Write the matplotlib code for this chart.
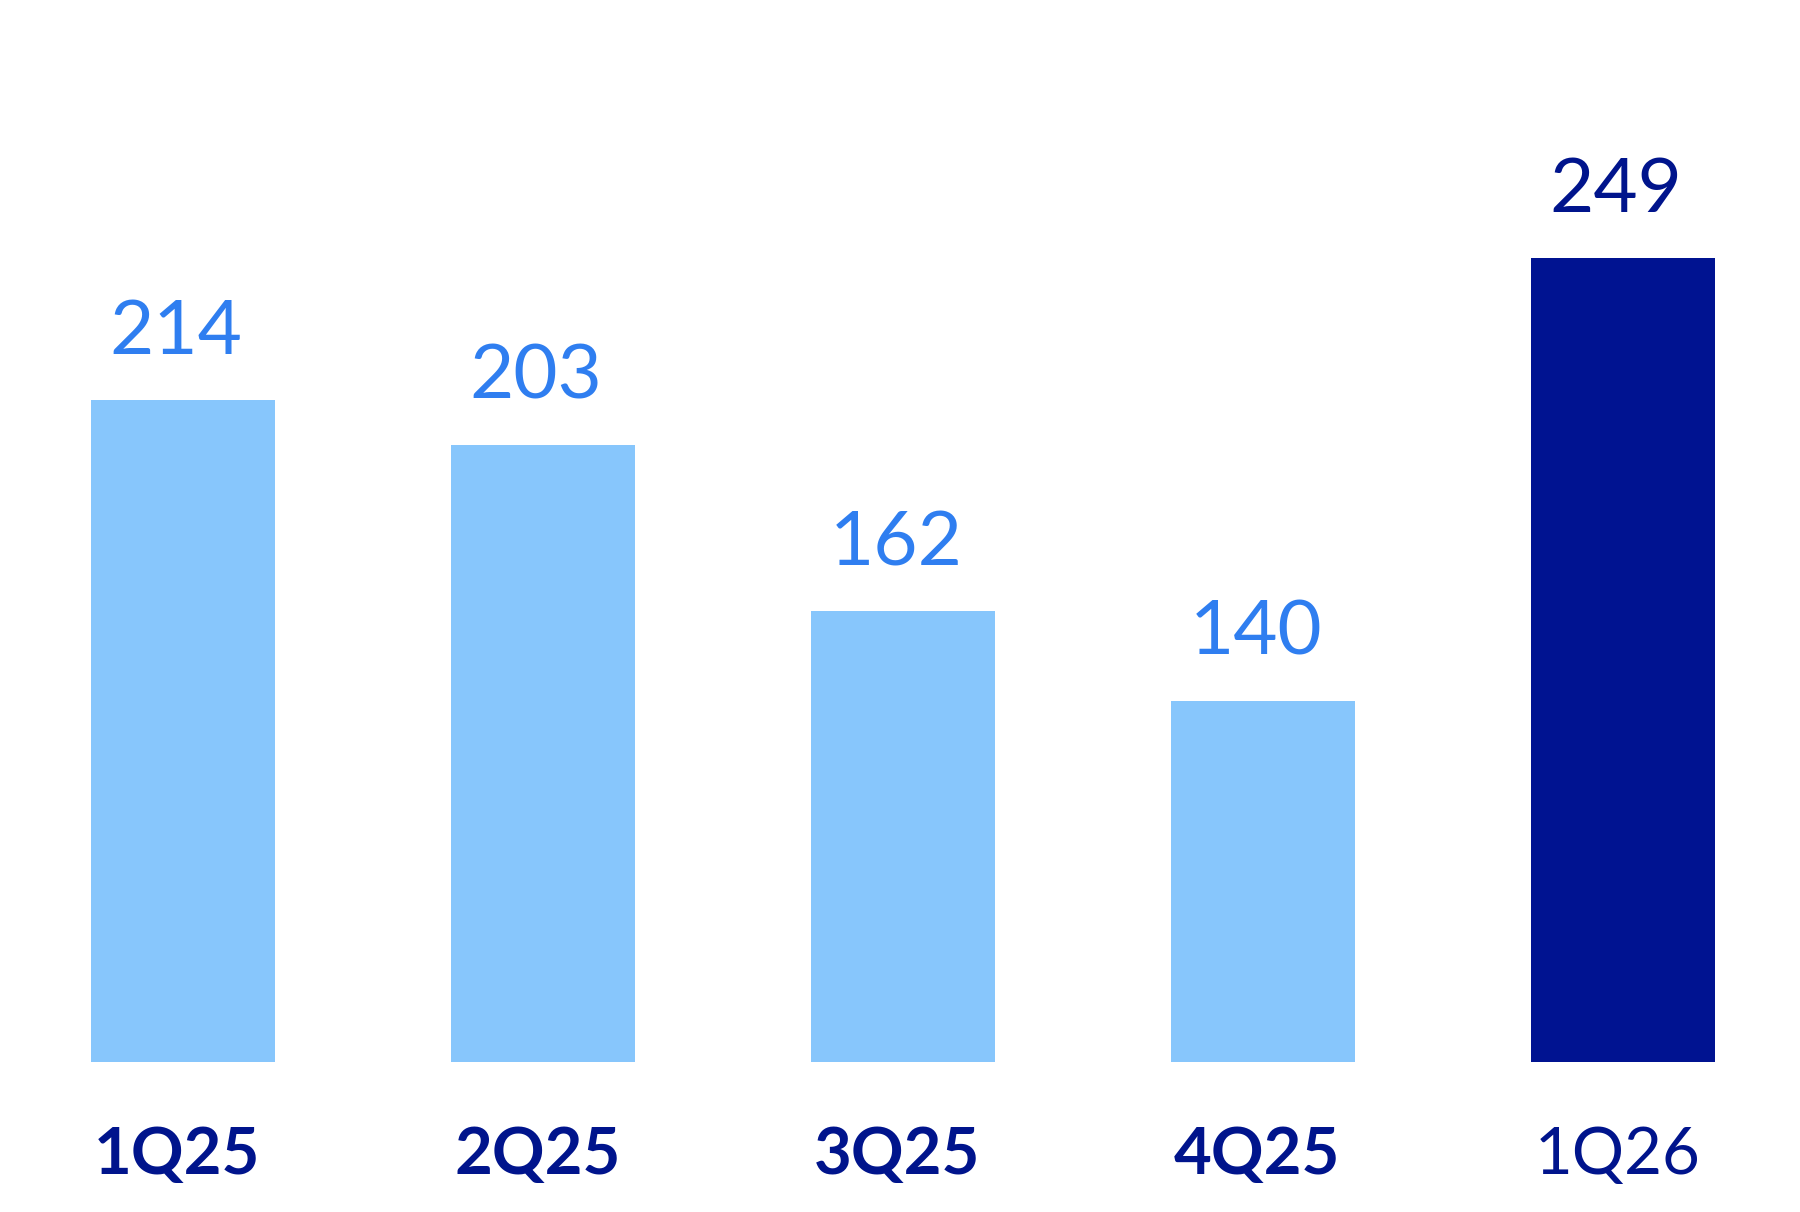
import numpy as np
import matplotlib.pyplot as plt

quarters = ["1Q25", "2Q25", "3Q25", "4Q25", "1Q26"]
values = [214, 203, 162, 140, 249]

light_bar = "#87C6FC"
dark_bar = "#001391"
light_txt = "#2F7EF0"
dark_txt = "#00148C"

plt.rcParams['font.family'] = ['Lato', 'DejaVu Sans']

fig = plt.figure(figsize=(18, 12.12), dpi=100)
ax = fig.add_axes([0, 0.1235, 1, 0.8765])

x = np.arange(len(quarters))
colors = [light_bar] * (len(values) - 1) + [dark_bar]
ax.bar(x, values, width=0.513, color=colors)

# value labels above the bars
for i, v in enumerate(values):
    c = dark_txt if i == len(values) - 1 else light_txt
    ax.annotate(str(v), (x[i], v), xytext=(-5, 33), textcoords="offset points",
                ha="center", va="baseline", fontsize=55, color=c)

# category labels under the bars
ax.set_xlim(-0.508, 4.492)
ax.set_ylim(51, 312.5)
for i, q in enumerate(quarters):
    w = "normal" if i == len(quarters) - 1 else "bold"
    ax.annotate(q, (x[i], 51), xytext=(-4, -80.6), textcoords="offset points",
                ha="center", va="baseline", fontsize=47, color=dark_txt,
                fontweight=w, annotation_clip=False)

ax.axis("off")
fig.savefig("out.png", dpi=100)
